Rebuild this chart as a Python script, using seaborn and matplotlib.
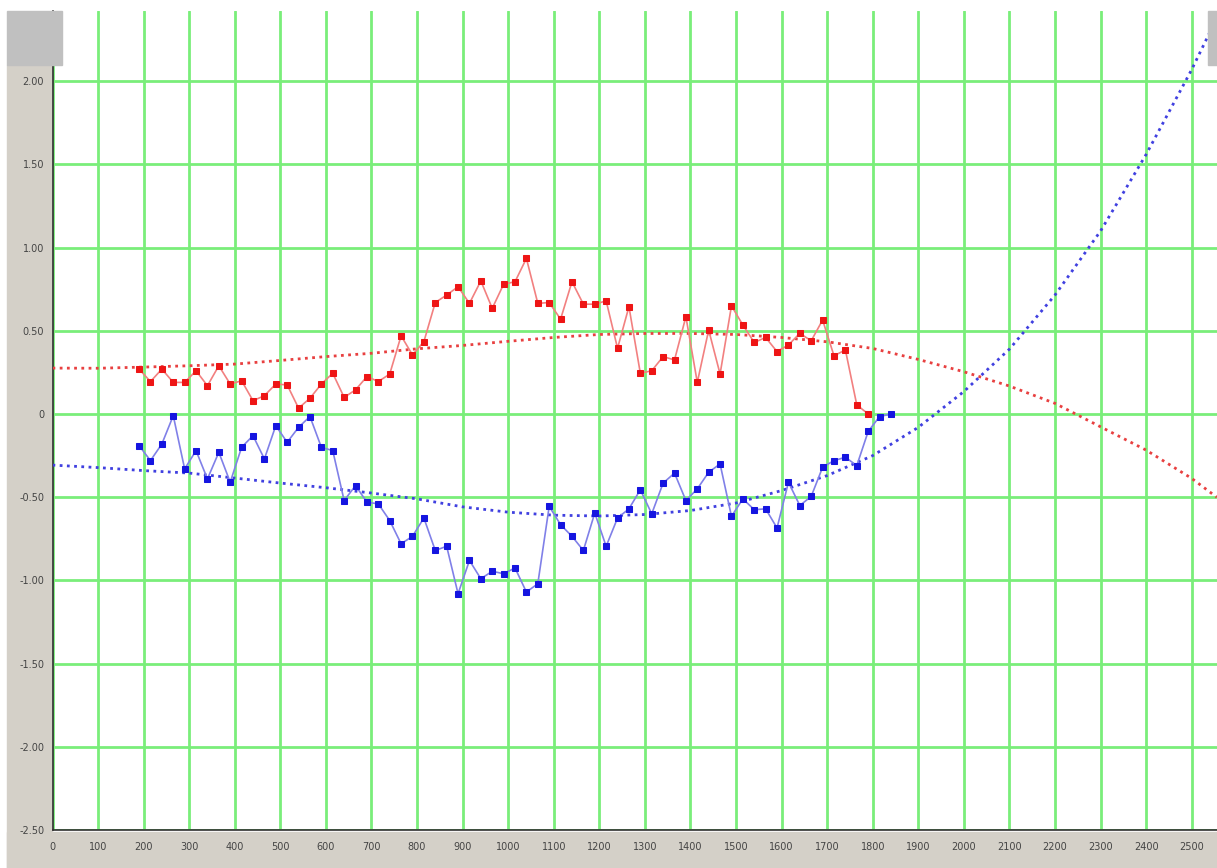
import numpy as np
import pandas as pd
import matplotlib
matplotlib.use("Agg")
import matplotlib.pyplot as plt
import seaborn as sns
from matplotlib.patches import Rectangle
from matplotlib.ticker import MultipleLocator, FixedLocator, FuncFormatter

# Sample positions (every 25 units) and measured values of the two series
red_x = np.arange(190, 1791, 25)
red_y = [0.27, 0.195, 0.27, 0.19, 0.19, 0.26, 0.17, 0.29, 0.18, 0.20,
         0.08, 0.11, 0.18, 0.175, 0.035, 0.095, 0.18, 0.245, 0.10, 0.145,
         0.225, 0.195, 0.24, 0.47, 0.355, 0.435, 0.67, 0.715, 0.765, 0.665,
         0.80, 0.635, 0.78, 0.795, 0.935, 0.665, 0.67, 0.57, 0.795, 0.66,
         0.66, 0.68, 0.395, 0.645, 0.245, 0.26, 0.345, 0.325, 0.585, 0.19,
         0.505, 0.24, 0.65, 0.535, 0.43, 0.46, 0.375, 0.415, 0.485, 0.44,
         0.565, 0.35, 0.385, 0.055, 0.0]

blue_x = np.arange(190, 1841, 25)
blue_y = [-0.19, -0.28, -0.18, -0.01, -0.33, -0.22, -0.39, -0.23, -0.41, -0.20,
          -0.13, -0.27, -0.07, -0.17, -0.08, -0.015, -0.20, -0.22, -0.52, -0.43,
          -0.53, -0.54, -0.64, -0.78, -0.735, -0.625, -0.82, -0.795, -1.08, -0.88,
          -0.99, -0.945, -0.96, -0.925, -1.07, -1.02, -0.555, -0.665, -0.735, -0.82,
          -0.595, -0.795, -0.625, -0.57, -0.455, -0.60, -0.415, -0.355, -0.52, -0.45,
          -0.35, -0.30, -0.615, -0.51, -0.575, -0.57, -0.685, -0.41, -0.55, -0.495,
          -0.32, -0.28, -0.26, -0.31, -0.105, -0.015, 0.0]

# Trend curves, sampled every 100 units across the full axis
trend_x = [0, 100, 200, 300, 400, 500, 600, 700, 800, 900, 1000, 1100, 1200,
           1300, 1400, 1500, 1600, 1700, 1800, 1900, 2000, 2100, 2200, 2300,
           2400, 2500, 2555]
red_trend = [0.276, 0.275, 0.282, 0.29, 0.30, 0.322, 0.345, 0.365, 0.392, 0.412,
             0.437, 0.46, 0.478, 0.484, 0.484, 0.478, 0.46, 0.434, 0.394, 0.328,
             0.254, 0.168, 0.064, -0.077, -0.217, -0.387, -0.50]
blue_trend = [-0.307, -0.322, -0.34, -0.355, -0.385, -0.415, -0.443, -0.475, -0.51,
              -0.558, -0.59, -0.608, -0.613, -0.604, -0.58, -0.535, -0.46, -0.37,
              -0.25, -0.08, 0.135, 0.39, 0.715, 1.10, 1.56, 2.07, 2.38]

x_ticks = list(range(0, 2501, 100))
y_ticks = [-2.5, -2.0, -1.5, -1.0, -0.5, 0.0, 0.5, 1.0, 1.5, 2.0]

sns.set_style("white")
plt.rcParams['font.family'] = ['DejaVu Sans']

W, H = 1217, 868
fig = plt.figure(figsize=(W / 100, H / 100), dpi=100)
fig.patch.set_facecolor("white")

# window chrome around the plotting area
panel = "#d4d0c8"
fig.patches.append(Rectangle((7 / W, 0), (52 - 7) / W, (H - 65) / H,
                             transform=fig.transFigure, color=panel, zorder=-2))
fig.patches.append(Rectangle((7 / W, 0), (W - 7) / W, (H - 832) / H,
                             transform=fig.transFigure, color=panel, zorder=-2))
fig.patches.append(Rectangle((7 / W, (H - 65) / H), (62 - 7) / W, (65 - 11) / H,
                             transform=fig.transFigure, color="#c0c0c0", zorder=5))
fig.patches.append(Rectangle((1208 / W, (H - 65) / H), (W - 1208) / W, (65 - 11) / H,
                             transform=fig.transFigure, color="#c0c0c0", zorder=5))

ax = fig.add_axes([52.5 / W, (H - 830) / H, (W - 52.5) / W, (830 - 11) / H])
ax.set_facecolor("white")

red_df = pd.DataFrame({"x": red_x, "y": red_y})
blue_df = pd.DataFrame({"x": blue_x, "y": blue_y})
trend_df = pd.DataFrame({"x": trend_x, "red": red_trend, "blue": blue_trend})

sns.lineplot(data=trend_df, x="x", y="red", ax=ax, color="#e84040", lw=2.0,
             linestyle=(0, (1, 1.6)), zorder=3)
sns.lineplot(data=trend_df, x="x", y="blue", ax=ax, color="#4040e0", lw=2.0,
             linestyle=(0, (1, 1.6)), zorder=3)

sns.lineplot(data=red_df, x="x", y="y", ax=ax, color="#f28080", lw=1.2,
             marker="s", markersize=5, markerfacecolor="#ee1515",
             markeredgecolor="#ee1515", zorder=4)
sns.lineplot(data=blue_df, x="x", y="y", ax=ax, color="#8080e8", lw=1.2,
             marker="s", markersize=5, markerfacecolor="#1515e0",
             markeredgecolor="#1515e0", zorder=4)

ax.set_xlim(0, 2555.5)
ax.set_ylim(-2.5, 2.422)

ax.xaxis.set_major_locator(FixedLocator(x_ticks))
ax.xaxis.set_minor_locator(MultipleLocator(20))
ax.yaxis.set_major_locator(FixedLocator(y_ticks))
ax.yaxis.set_minor_locator(MultipleLocator(0.1))
ax.yaxis.set_major_formatter(FuncFormatter(lambda v, p: "0" if abs(v) < 1e-9 else f"{v:.2f}"))
ax.xaxis.set_major_formatter(FuncFormatter(lambda v, p: f"{int(round(v))}"))

ax.grid(True, which="major", color="#7aee7a", lw=2.0)
ax.set_axisbelow(True)

for s in ("top", "right"):
    ax.spines[s].set_visible(False)
for s in ("left", "bottom"):
    ax.spines[s].set_color("#303030")
    ax.spines[s].set_linewidth(1.2)

ax.tick_params(axis="both", which="both", direction="out", colors="#303030",
               labelcolor="#444444", labelsize=7)
ax.tick_params(axis="y", which="major", length=4, width=1, pad=2)
ax.tick_params(axis="y", which="minor", length=3, width=1)
ax.tick_params(axis="x", which="major", length=4, width=1, pad=5)
ax.tick_params(axis="x", which="minor", length=2.5, width=1)
ax.set_xlabel("")
ax.set_ylabel("")

fig.savefig("out.png", dpi=100, facecolor="white")
